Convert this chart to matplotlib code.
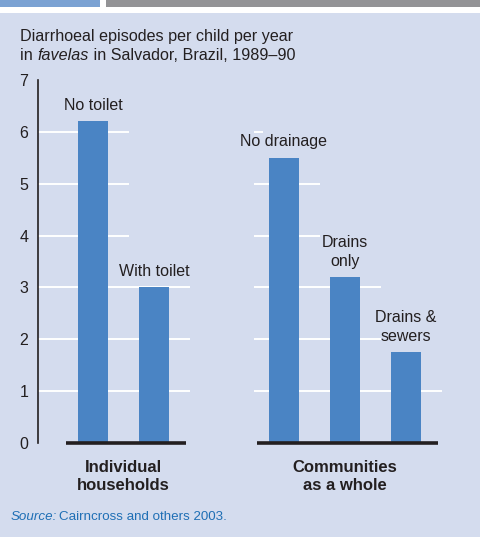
import matplotlib
matplotlib.use("Agg")
import matplotlib.pyplot as plt
from matplotlib.patches import Rectangle

# --------------------------------------------------------------------------
# data
# --------------------------------------------------------------------------
groups = ["Individual\nhouseholds", "Communities\nas a whole"]
bar_labels = [["No toilet", "With toilet"],
              ["No drainage", "Drains\nonly", "Drains &\nsewers"]]
values = [[6.2, 3.0],
          [5.5, 3.2, 1.75]]
yticks = [0, 1, 2, 3, 4, 5, 6, 7]

title1 = "Diarrhoeal episodes per child per year"
title2 = ["in ", "favelas", " in Salvador, Brazil, 1989\u201390"]
source = ["Source:", "Cairncross and others 2003."]

# --------------------------------------------------------------------------
# style
# --------------------------------------------------------------------------
BG = "#d4dcee"
BAR = "#4a84c4"
INK = "#231f20"
FONT = ["Liberation Sans Narrow", "Liberation Sans", "DejaVu Sans"]
plt.rcParams["font.family"] = FONT

W, H = 481, 537
fig = plt.figure(figsize=(W / 100, H / 100), dpi=100)
fig.patch.set_facecolor("white")


def px(x0, y0, w, h, color):
    fig.patches.append(Rectangle((x0 / W, 1 - (y0 + h) / H), w / W, h / H,
                                 transform=fig.transFigure, color=color,
                                 zorder=-10, lw=0))


px(0, 13.3, W, H - 13.3, BG)      # panel
px(0, 0, 100, 7.3, "#7ba2d3")     # blue tab
px(106, 0, W - 106, 7.3, "#939396")  # grey tab

ax = fig.add_axes([38 / W, (H - 443) / H, 422 / W, 363 / H])
ax.set_facecolor("none")

# bar positions: one unit apart within a group, wider gap between groups
width = 0.49
gap = 2.13
pos = []
x = 0.0
for gi, vals in enumerate(values):
    p = []
    for v in vals:
        p.append(x)
        x += 1.0
    pos.append(p)
    x += gap - 1.0

xmin, xmax = -0.9, 6.02
ax.set_xlim(xmin, xmax)
ax.set_ylim(0, 7)

for gi, (p, vals, labs) in enumerate(zip(pos, values, bar_labels)):
    ax.bar(p, vals, width=width, color=BAR, zorder=3)
    # staircase gridlines: run to just past the last bar reaching the level
    g0 = xmin if gi == 0 else p[0] - width / 2 - 0.24
    for lvl in yticks[1:-1]:
        reach = [pp for pp, v in zip(p, vals) if v >= lvl]
        g1 = reach[-1] + width / 2 + 0.35 if reach else g0 + 0.15
        ax.hlines(lvl, g0, g1, color="white", lw=1.4, zorder=1)
    # group baseline
    ax.hlines(0, p[0] - width / 2 - 0.19, p[-1] + width / 2 + 0.29,
              color=INK, lw=2.6, zorder=4, clip_on=False)
    for pp, v, lab in zip(p, vals, labs):
        ax.annotate(lab, (pp, v), xytext=(0, 6), textcoords="offset points",
                    ha="center", va="bottom", fontsize=11.5, color=INK,
                    linespacing=1.3)
    ax.annotate(groups[gi], ((p[0] + p[-1]) / 2, 0), xytext=(0, -12),
                textcoords="offset points", ha="center", va="top",
                fontsize=12, fontweight="bold", color=INK, linespacing=1.25)

for s in ("top", "right", "bottom"):
    ax.spines[s].set_visible(False)
ax.spines["left"].set_color(INK)
ax.spines["left"].set_linewidth(1.2)
ax.set_xticks([])
ax.set_yticks(yticks)
ax.tick_params(axis="y", length=0, pad=7, labelsize=11.5, labelcolor=INK)

# title
TS = 11.6
fig.text(20 / W, 1 - 41 / H, title1, fontsize=TS, color=INK, va="baseline")
t = fig.text(20 / W, 1 - 60 / H, title2[0], fontsize=TS, color=INK,
             va="baseline")
t = ax.annotate(title2[1], (1, 0), xycoords=t, fontsize=TS, color=INK,
                style="italic", va="bottom", ha="left")
ax.annotate(title2[2], (1, 0), xycoords=t, fontsize=TS, color=INK,
            va="bottom", ha="left")

# source note
SRC = "#1f6fb5"
s = fig.text(11 / W, 1 - 520 / H, source[0], fontsize=9.6, color=SRC,
             style="italic", va="baseline")
ax.annotate(source[1], (1, 0), xycoords=s, xytext=(1.5, 0),
            textcoords="offset points", fontsize=9.6, color=SRC,
            va="bottom", ha="left")

fig.savefig("out.png", dpi=100, facecolor=fig.get_facecolor())
